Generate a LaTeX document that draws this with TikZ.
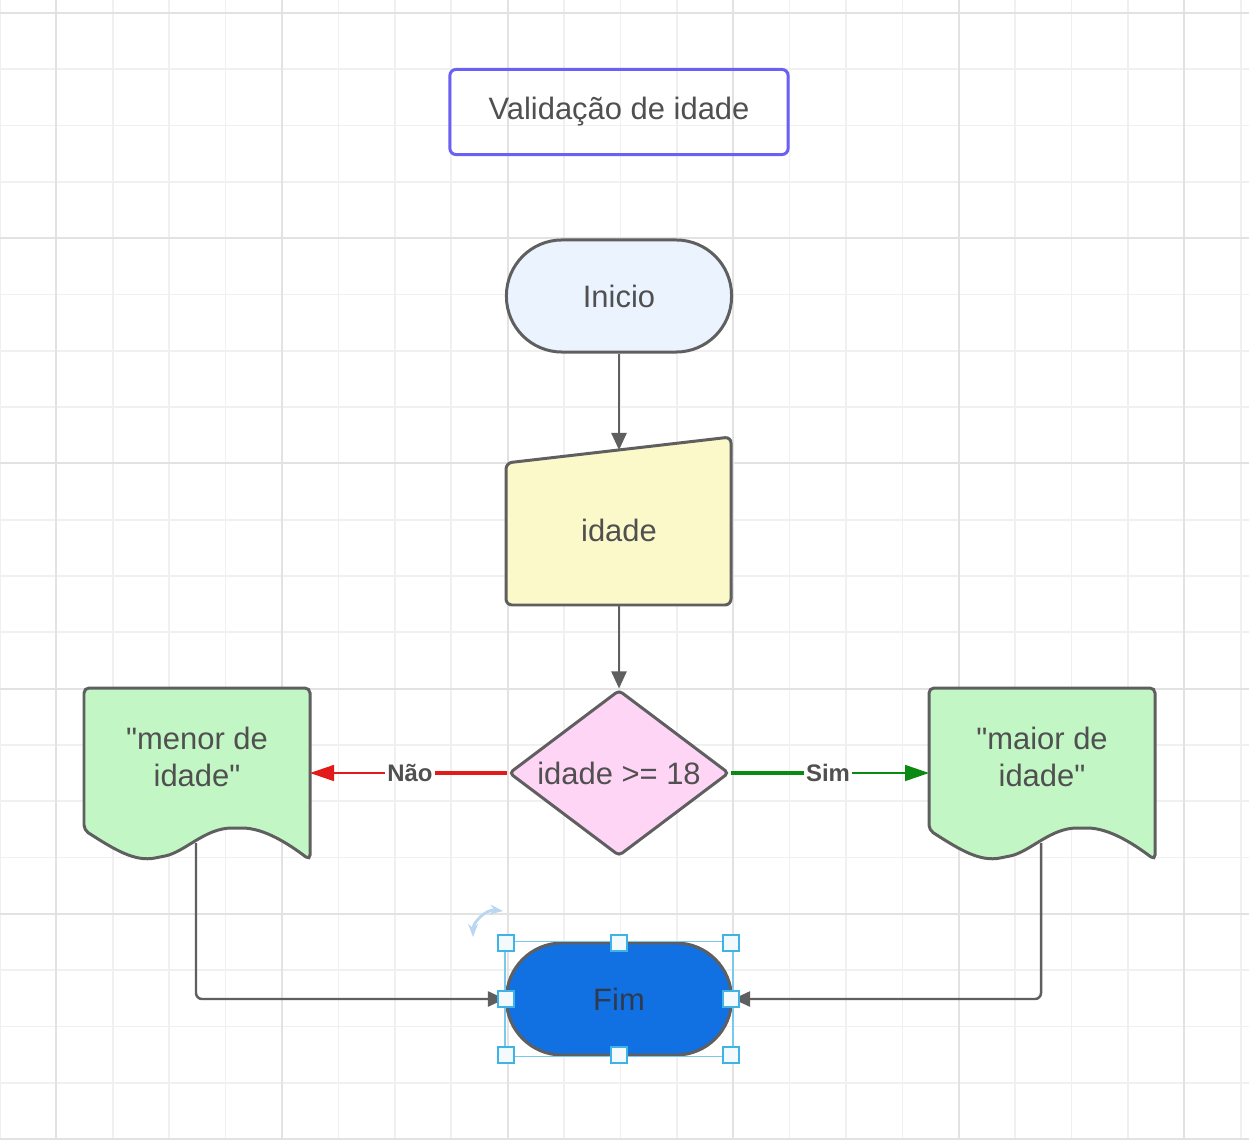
\documentclass[tikz,border=0pt]{standalone}
\usepackage{fontspec}
\setmainfont{Liberation Sans}[Ligatures=TeXOff]
\usepackage{tikz}
\usetikzlibrary{arrows.meta,shapes.geometric}
\definecolor{linegray}{HTML}{5F5F5F}
\definecolor{textgray}{HTML}{505050}
\definecolor{gridminor}{HTML}{F0F0F0}
\definecolor{gridmajor}{HTML}{E2E2E2}
\definecolor{titleviolet}{HTML}{6A5FF7}
\definecolor{iniciofill}{HTML}{EBF3FF}
\definecolor{inputfill}{HTML}{FBF9C9}
\definecolor{decfill}{HTML}{FFD5F6}
\definecolor{docfill}{HTML}{C3F6C5}
\definecolor{fimfill}{HTML}{1170E2}
\definecolor{fimtext}{HTML}{2E3B4E}
\definecolor{naored}{HTML}{E21A1A}
\definecolor{simgreen}{HTML}{0A8A12}
\definecolor{selblue}{HTML}{3FB2E6}
\definecolor{rotblue}{HTML}{B9D6F2}

\begin{document}
\begin{tikzpicture}[x=0.01cm, y=-0.01cm,
  every node/.style={font=\fontsize{8.8}{10.5}\selectfont, text=textgray},
  box/.style={draw=linegray, line width=0.85pt},
  terminal/.style={rectangle, box, rounded corners=0.555cm, minimum width=2.25cm, minimum height=1.12cm},
  flow/.style={draw=linegray, line width=0.7pt, -{Triangle[length=1.7mm,width=1.5mm]}},
  branchlabel/.style={font=\fontsize{6.8}{8}\selectfont\bfseries, inner sep=0.5pt},
  handle/.style={draw=selblue, fill=white!94!selblue, line width=0.5pt, minimum size=0.16cm, inner sep=0pt}]
  \useasboundingbox (0,0) rectangle (1249,1140);
  \fill[white] (0,0) rectangle (1249,1140);
  % grid
  \foreach \i in {0,...,22}
    \draw[gridminor, line width=0.5pt] ({\i*56.4},0) -- ({\i*56.4},1140);
  \foreach \j in {0,...,20}
    \draw[gridminor, line width=0.5pt] (0,{13+56.3*\j}) -- (1249,{13+56.3*\j});
  \foreach \i in {1,5,...,21}
    \draw[gridmajor, line width=0.6pt] ({\i*56.4},0) -- ({\i*56.4},1140);
  \foreach \j in {0,4,...,20}
    \draw[gridmajor, line width=0.6pt] (0,{13+56.3*\j}) -- (1249,{13+56.3*\j});

  \node[draw=titleviolet, line width=0.85pt, rounded corners=0.06cm, minimum width=3.38cm, minimum height=0.85cm] (titulo) at (619,112) {Validação de idade};

  \node[terminal, fill=iniciofill] (inicio) at (619,296) {Inicio};

  % entrada manual
  \path[box, fill=inputfill, rounded corners=0.06cm] (506,463) -- (731,437) -- (731,605) -- (506,605) -- cycle;
  \node (idade) at (619,530) {idade};
  \coordinate (idadetop) at (619,450);
  \coordinate (idadebot) at (619,605);

  \node[diamond, aspect=1.325, box, fill=decfill, inner sep=0pt, minimum width=2.2cm, minimum height=1.66cm, rounded corners=0.04cm] (dec) at (619,773) {idade >= 18};

  % documentos
  \path[box, fill=docfill, rounded corners=0.05cm] (84,830) .. controls (115,850) and (135,862) .. (160,857) .. controls (185,852) and (205,828) .. (237,828) .. controls (265,828) and (290,845) .. (310,860) -- (310,688) -- (84,688) -- cycle;
  \node[align=center] (menor) at (197,757) {"menor de\\idade"};
  \path[box, fill=docfill, rounded corners=0.05cm] (929,830) .. controls (960,850) and (980,862) .. (1005,857) .. controls (1030,852) and (1050,828) .. (1082,828) .. controls (1110,828) and (1135,845) .. (1155,860) -- (1155,688) -- (929,688) -- cycle;
  \node[align=center] (maior) at (1042,757) {"maior de\\idade"};
  \coordinate (menorin) at (310,773);
  \coordinate (maiorin) at (929,773);
  \coordinate (menorout) at (196,843);
  \coordinate (maiorout) at (1041,843);

  \node[terminal, fill=fimfill, text=fimtext] (fim) at (619,999) {Fim};

  \draw[flow] (inicio) -- (idadetop);
  \draw[flow] (idadebot) -- (dec);
  \node[branchlabel] (nao) at (410,773) {Não};
  \draw[naored, line width=0.95pt] (dec.west) -- (nao);
  \draw[naored, line width=0.45pt, -{Triangle[length=2.4mm,width=1.6mm]}] (nao) -- (menorin);
  \node[branchlabel] (sim) at (828,773) {Sim};
  \draw[simgreen, line width=0.95pt] (dec.east) -- (sim);
  \draw[simgreen, line width=0.45pt, -{Triangle[length=2.4mm,width=1.6mm]}] (sim) -- (maiorin);
  \draw[flow, rounded corners=0.06cm] (menorout) |- (fim.west);
  \draw[flow, rounded corners=0.06cm] (maiorout) |- (fim.east);

  % selecao
  \draw[selblue!70, line width=0.45pt] (fim.north west) rectangle (fim.south east);
  \foreach \px/\py [count=\k] in {506/943, 619/943, 731/943, 506/999, 731/999, 506/1055, 619/1055, 731/1055}
    \node[handle] (handle\k) at (\px,\py) {};
  \draw[rotblue, line width=0.8pt, {Stealth[length=1.3mm]}-{Stealth[length=1.3mm]}] (473,937) .. controls (473,922) and (486,909) .. (503,911);
\end{tikzpicture}
\end{document}
